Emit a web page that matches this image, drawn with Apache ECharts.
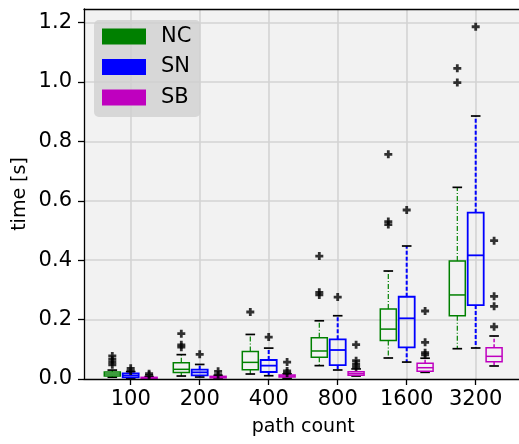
<!DOCTYPE html>
<html>
<head>
<meta charset="utf-8">
<script src="https://cdn.jsdelivr.net/npm/echarts@6/dist/echarts.min.js"></script>
<style>html,body{margin:0;padding:0;background:#fff}#c{width:519px;height:444px}</style>
</head>
<body>
<div id="c"></div>
<script>
// ---- data ----
const categories = ['100', '200', '400', '800', '1600', '3200'];
// [lower whisker, Q1, median, Q3, upper whisker]
const ncStats = [
  [0.006, 0.0101, 0.0168, 0.0236, 0.030],
  [0.010, 0.022, 0.0326, 0.055, 0.082],
  [0.0168, 0.031, 0.056, 0.093, 0.150],
  [0.045, 0.073, 0.0943, 0.139, 0.196],
  [0.0707, 0.130, 0.168, 0.2357, 0.3636],
  [0.102, 0.213, 0.283, 0.397, 0.6453]
];
const snStats = [
  [0.003, 0.0057, 0.012, 0.019, 0.025],
  [0.0067, 0.0123, 0.0224, 0.0314, 0.049],
  [0.011, 0.0236, 0.045, 0.064, 0.104],
  [0.0303, 0.047, 0.0976, 0.1336, 0.213],
  [0.057, 0.1067, 0.2043, 0.277, 0.4478],
  [0.1044, 0.249, 0.4164, 0.560, 0.8855]
];
const sbStats = [
  [0.001, 0.002, 0.003, 0.0057, 0.008],
  [0.002, 0.004, 0.006, 0.009, 0.012],
  [0.003, 0.0067, 0.010, 0.0135, 0.017],
  [0.010, 0.0124, 0.018, 0.0247, 0.034],
  [0.0225, 0.026, 0.038, 0.0527, 0.070],
  [0.0438, 0.0584, 0.0763, 0.1055, 0.1448]
];
const ncOutliers = [
  [0.048, 0.057, 0.066, 0.0774],
  [0.107, 0.115, 0.1526],
  [0.2256],
  [0.283, 0.292, 0.414],
  [0.520, 0.530, 0.7565],
  [0.998, 1.046]
];
const snOutliers = [
  [0.027, 0.036],
  [0.083],
  [0.141],
  [0.276],
  [0.569],
  [1.186]
];
const sbOutliers = [
  [0.0125, 0.018],
  [0.015, 0.026],
  [0.020, 0.027, 0.057],
  [0.0415, 0.0505, 0.0617, 0.1156],
  [0.081, 0.0886, 0.1235, 0.229],
  [0.176, 0.2447, 0.2783, 0.4657]
];
const yTicks = [0, 0.2, 0.4, 0.6, 0.8, 1.0, 1.2];
const seriesNames = ['NC', 'SN', 'SB'];

// ---- layout / style ----
const FONT = 'DejaVu Sans';
const TOP = 9, BOTTOM = 379, LEFT = 84;
const PX_PER_UNIT = 297;
const Y_TICK_MAX = yTicks[yTicks.length - 1];
const FULL_MAX = (BOTTOM - TOP) / PX_PER_UNIT;
const GRID_COLOR = '#d3d3d3';
const STYLES = [
  { color: '#008000', dash: [5, 2, 1, 2], wl: 1.2, bl: 1.5 },
  { color: '#0000ff', dash: [4, 2], wl: 2, bl: 1.8 },
  { color: '#bf00bf', dash: [3.5, 2], wl: 1.5, bl: 1.5 }
];
const OFFSET = 18.4 / 69; // fraction of band
const BOXW = 16 / 69;

function boxSeries(idx, stats) {
  const st = STYLES[idx];
  const k = idx - 1;
  return {
    type: 'custom',
    name: seriesNames[idx],
    xAxisIndex: 2, yAxisIndex: 2, z: 3,
    itemStyle: { color: st.color },
    data: stats.map((s, i) => [i].concat(s)),
    encode: { x: 0, y: [1, 2, 3, 4, 5] },
    renderItem: function (params, api) {
      const i = api.value(0);
      const band = api.size([1, 0])[0];
      const cx = api.coord([i, 0])[0] + k * band * OFFSET;
      const half = band * BOXW / 2;
      const capHalf = half * 0.6;
      const y = j => api.coord([i, api.value(j)])[1];
      const yl = y(1), yq1 = y(2), ym = y(3), yq3 = y(4), yh = y(5);
      const wStyle = { stroke: st.color, lineWidth: st.wl, lineDash: st.dash, fill: null };
      const capStyle = { stroke: '#000', lineWidth: 1.7, fill: null };
      const boxStyle = { stroke: st.color, lineWidth: st.bl, fill: null };
      return {
        type: 'group',
        children: [
          { type: 'line', shape: { x1: cx, y1: yq3, x2: cx, y2: yh }, style: wStyle },
          { type: 'line', shape: { x1: cx, y1: yq1, x2: cx, y2: yl }, style: wStyle },
          { type: 'line', shape: { x1: cx - capHalf, y1: yh, x2: cx + capHalf, y2: yh }, style: capStyle },
          { type: 'line', shape: { x1: cx - capHalf, y1: yl, x2: cx + capHalf, y2: yl }, style: capStyle },
          { type: 'rect', shape: { x: cx - half, y: yq3, width: 2 * half, height: yq1 - yq3 }, style: boxStyle },
          { type: 'line', shape: { x1: cx - half, y1: ym, x2: cx + half, y2: ym }, style: { stroke: st.color, lineWidth: st.bl, fill: null } }
        ]
      };
    }
  };
}

function outlierSeries(idx, outs) {
  const data = [];
  outs.forEach((arr, i) => arr.forEach(v => data.push([i, v])));
  return {
    type: 'scatter',
    name: seriesNames[idx] + ' outliers',
    xAxisIndex: 2, yAxisIndex: 2, z: 4,
    data: data,
    symbol: 'path://M2.6,0H5.4V2.6H8V5.4H5.4V8H2.6V5.4H0V2.6H2.6Z',
    symbolSize: 8,
    symbolOffset: [(idx - 1) * 18.4, 0],
    itemStyle: { color: '#000' },
    silent: true
  };
}

const axisTextStyle = { color: '#000', fontFamily: FONT, fontSize: 21 };

const option = {
  animation: false,
  backgroundColor: '#ffffff',
  textStyle: { fontFamily: FONT },
  grid: [
    { left: LEFT, top: TOP, width: 470, height: BOTTOM - TOP, show: true, backgroundColor: '#f2f2f2', borderWidth: 0 },
    { left: LEFT, top: BOTTOM - Y_TICK_MAX * PX_PER_UNIT, width: 470, height: Y_TICK_MAX * PX_PER_UNIT },
    { left: 130.7, top: TOP, width: 345, height: BOTTOM - TOP }
  ],
  xAxis: [
    { gridIndex: 0, type: 'value', min: 0, max: 1, z: 5, position: 'bottom',
      axisLine: { show: true, onZero: false, lineStyle: { color: '#000', width: 1.3 } },
      axisTick: { show: false }, axisLabel: { show: false }, splitLine: { show: false } },
    { gridIndex: 1, type: 'value', min: 0, max: 1, show: false },
    { gridIndex: 2, type: 'category', data: categories, boundaryGap: false,
      name: 'path count', nameLocation: 'middle', nameGap: 39,
      nameTextStyle: { color: '#000', fontFamily: FONT, fontSize: 19 },
      axisLine: { show: false },
      axisTick: { show: true, interval: 0, length: 6, inside: false, lineStyle: { color: '#000', width: 1.3 } },
      axisLabel: Object.assign({ interval: 0, margin: 10 }, axisTextStyle),
      splitLine: { show: true, interval: 0, lineStyle: { color: GRID_COLOR, width: 1.6 } } },
    { gridIndex: 0, type: 'value', min: 0, max: 1, z: 5, position: 'top',
      axisLine: { show: true, onZero: false, lineStyle: { color: '#000', width: 1.3 } },
      axisTick: { show: false }, axisLabel: { show: false }, splitLine: { show: false } }
  ],
  yAxis: [
    { gridIndex: 0, type: 'value', min: 0, max: 1, z: 5,
      name: 'time [s]', nameLocation: 'middle', nameGap: 54,
      nameTextStyle: { color: '#000', fontFamily: FONT, fontSize: 19 },
      axisLine: { show: true, onZero: false, lineStyle: { color: '#000', width: 1.3 } },
      axisTick: { show: false }, axisLabel: { show: false }, splitLine: { show: false } },
    { gridIndex: 1, type: 'value', min: 0, max: Y_TICK_MAX, interval: 0.2,
      axisLine: { show: false },
      axisTick: { show: true, length: 6, inside: false, lineStyle: { color: '#000', width: 1.3 } },
      axisLabel: Object.assign({ margin: 12, formatter: v => v.toFixed(1) }, axisTextStyle),
      splitLine: { show: true, showMinLine: false, lineStyle: { color: GRID_COLOR, width: 1.6 } } },
    { gridIndex: 2, type: 'value', min: 0, max: FULL_MAX, show: false }
  ],
  legend: {
    orient: 'vertical', left: 94, top: 20,
    data: seriesNames.map((n, i) => ({ name: n, icon: 'rect', itemStyle: { color: STYLES[i].color } })),
    itemWidth: 44, itemHeight: 16, itemGap: 9.5,
    padding: [6, 9, 9, 8],
    backgroundColor: 'rgba(208,208,208,0.8)',
    borderRadius: 5,
    selectedMode: false,
    textStyle: { color: '#000', fontFamily: FONT, fontSize: 21, lineHeight: 21, padding: [0, 0, 0, 10] }
  },
  series: [
    boxSeries(0, ncStats), boxSeries(1, snStats), boxSeries(2, sbStats),
    outlierSeries(0, ncOutliers), outlierSeries(1, snOutliers), outlierSeries(2, sbOutliers)
  ]
};

const chart = echarts.init(document.getElementById('c'), null, { renderer: 'canvas' });
chart.setOption(option);
</script>
</body>
</html>
